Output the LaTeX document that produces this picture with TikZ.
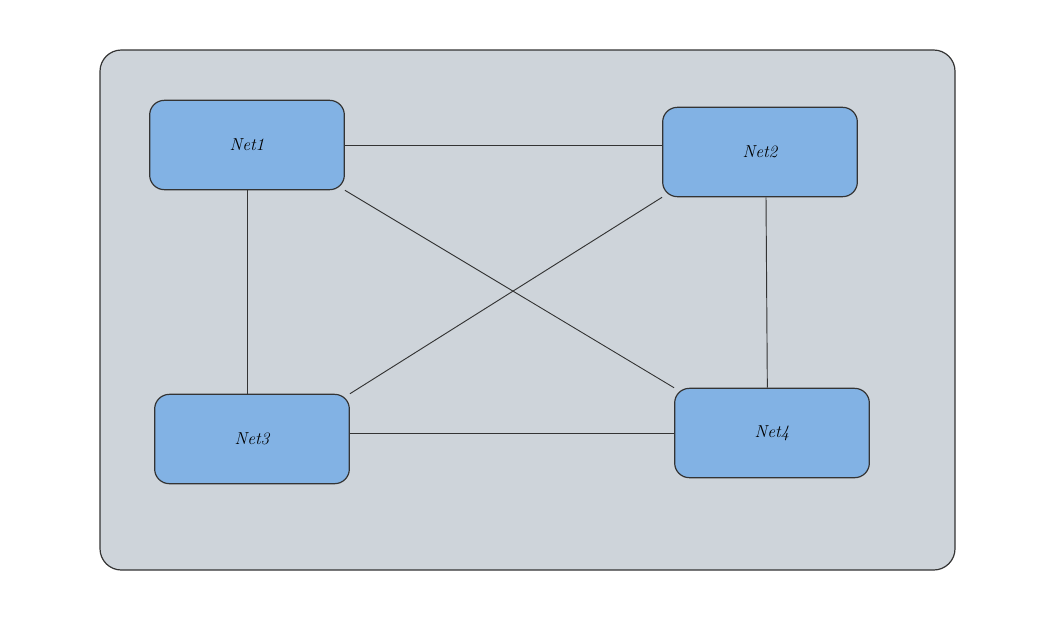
\documentclass[tikz,border=0pt]{standalone}
\usepackage{tikz}
\usetikzlibrary{positioning}
\usepackage{xcolor}
\definecolor{panelgray}{RGB}{206,212,218}
\definecolor{netblue}{RGB}{130,178,228}
\definecolor{edgegray}{RGB}{52,52,52}

\begin{document}
\begin{tikzpicture}[x=0.75pt, y=-0.75pt,
        net/.style={rectangle, rounded corners=11pt, draw=edgegray, line width=0.9pt,
            fill=netblue, minimum width=146pt, minimum height=67pt,
            font=\fontsize{13}{15}\selectfont\itshape},
        link/.style={draw=edgegray, line width=0.7pt}]

        \useasboundingbox (0,0) rectangle (1048,637);

        % Outer panel
        \draw[draw=edgegray, line width=0.9pt, fill=panelgray, rounded corners=16pt]
            (100,50) rectangle (955,570);

        % Networks
        \node[net] (net1) at (247,145) {Net1};
        \node[net] (net2) at (760,152) {Net2};
        \node[net] (net3) at (252,439) {Net3};
        \node[net] (net4) at (772,433) {Net4};

        % Horizontal links
        \draw[link] (net1.east) -- (net2.west |- net1.east);
        \draw[link] (net3.east |- net4.west) -- (net4.west);

        % Vertical links
        \draw[link] (net1.south) -- (net3.north -| net1.south);
        \draw[link] ([xshift=4.5pt]net2.south) -- ([xshift=-3.5pt]net4.north);

        % Diagonal links
        \draw[link] (net1.south east) -- (net4.north west);
        \draw[link] (net2.south west) -- (net3.north east);

    \end{tikzpicture}
\end{document}
